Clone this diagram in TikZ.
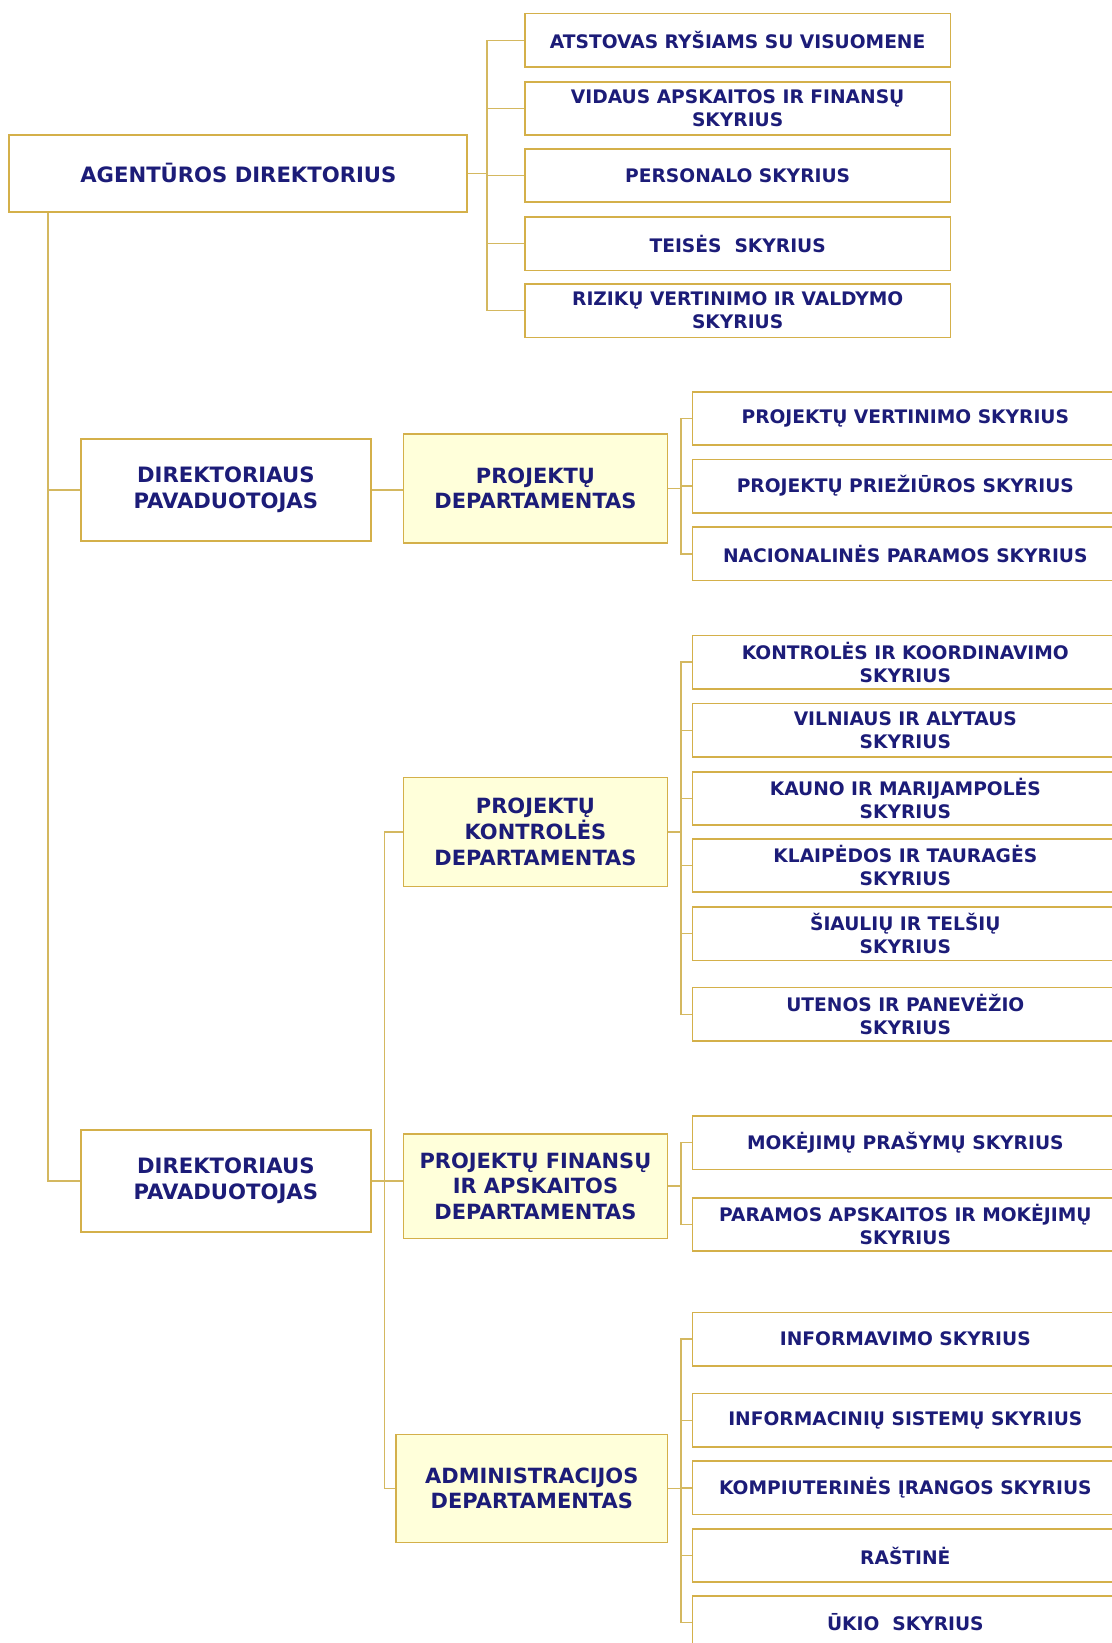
\documentclass[tikz,border=0pt]{standalone}
\usepackage{fontspec}
\setmainfont{DejaVu Sans}
\usepackage{xcolor}
\usepackage{tikz}

\definecolor{gold}{HTML}{D4B04A}
\definecolor{linkgold}{HTML}{D4B860}
\definecolor{paleyellow}{HTML}{FFFFDA}
\definecolor{navy}{HTML}{1C1C78}

\tikzset{
 unit/.style={draw=gold, line width=1.6pt, fill=white, text=navy, inner sep=0pt,
  font=\bfseries\fontsize{17.8}{22}\selectfont, align=center,
  minimum width=406, minimum height=51},
 dept/.style={unit, fill=paleyellow, font=\bfseries\fontsize{20}{24.5}\selectfont,
  minimum width=252, minimum height=104},
 deputy/.style={unit, line width=2pt, font=\bfseries\fontsize{20.2}{24.5}\selectfont,
  minimum width=277, minimum height=97},
 link/.style={draw=linkgold, line width=1.5pt}
}

\begin{document}
\begin{tikzpicture}[x=1pt,y=-1pt]

\useasboundingbox[fill=white] (0,0) rectangle (1061,1568);

\def\bt{465} \def\bl{46} \def\bm{367} \def\br{650}
\coordinate (bt) at (\bt,0); \coordinate (bl) at (\bl,0);
\coordinate (bm) at (\bm,0); \coordinate (br) at (\br,0);

\begin{scope} %director
 \node[deputy, minimum width=437, minimum height=73] (ad) at (227.5,165.5) {AGENTŪROS DIREKTORIUS};
 \foreach \n/\y/\t in {a1/36.5/{ATSTOVAS RYŠIAMS SU VISUOMENE},
   a2/101.5/{VIDAUS APSKAITOS IR FINANSŲ\\SKYRIUS},
   a3/165.5/{PERSONALO SKYRIUS},
   a4/230.5/{TEISĖS\ \ SKYRIUS},
   a5/294.5/{RIZIKŲ VERTINIMO IR VALDYMO\\SKYRIUS}}
  \node[unit, yshift=-2] (\n) at (704,\y) {\t};
 \draw[link] (a1.west) -- (a1.west -| bt) -- (a5.west -| bt) -- (a5.west);
 \foreach \n in {a2,a3,a4} \draw[link] (\n.west -| bt) -- (\n.west);
 \draw[link] (ad.east) -- (ad.east -| bt);
\end{scope}

\begin{scope} %deputies
 \node[deputy] (d1) at (215.5,467.5) {DIREKTORIAUS\\PAVADUOTOJAS};
 \node[deputy] (d2) at (215.5,1127) {DIREKTORIAUS\\PAVADUOTOJAS};
 \draw[link] (ad.south -| bl) -- (bl |- d2.west) -- (d2.west);
 \draw[link] (bl |- d1.west) -- (d1.west);
\end{scope}

\begin{scope} %projektu departamentas
 \node[dept] (pd) at (511,466) {PROJEKTŲ\\DEPARTAMENTAS};
 \draw[link] (d1.east) -- (pd.west |- d1.east);
 \foreach \n/\y/\t in {p1/399.5/{PROJEKTŲ VERTINIMO SKYRIUS},
   p2/464/{PROJEKTŲ PRIEŽIŪROS SKYRIUS},
   p3/528.5/{NACIONALINĖS PARAMOS SKYRIUS}}
  \node[unit] (\n) at (864,\y) {\t};
 \draw[link] (p1.west) -- (p1.west -| br) -- (p3.west -| br) -- (p3.west);
 \draw[link] (p2.west -| br) -- (p2.west);
 \draw[link] (pd.east) -- (pd.east -| br);
\end{scope}

\begin{scope} %kontroles departamentas
 \node[dept] (kd) at (511,794) {PROJEKTŲ\\KONTROLĖS\\DEPARTAMENTAS};
 \foreach \n/\y/\t in {k1/632/{KONTROLĖS IR KOORDINAVIMO\\SKYRIUS},
   k2/697/{VILNIAUS IR ALYTAUS\\SKYRIUS},
   k3/762/{KAUNO IR MARIJAMPOLĖS\\SKYRIUS},
   k4/826/{KLAIPĖDOS IR TAURAGĖS\\SKYRIUS},
   k5/891/{ŠIAULIŲ IR TELŠIŲ\\SKYRIUS},
   k6/968/{UTENOS IR PANEVĖŽIO\\SKYRIUS}}
  \node[unit] (\n) at (864,\y) {\t};
 \draw[link] (k1.west) -- (k1.west -| br) -- (k6.west -| br) -- (k6.west);
 \foreach \n in {k2,k3,k4,k5} \draw[link] (\n.west -| br) -- (\n.west);
 \draw[link] (kd.east) -- (kd.east -| br);
\end{scope}

\begin{scope} %finansu departamentas
 \node[dept, minimum height=100] (fd) at (511,1132) {PROJEKTŲ FINANSŲ\\IR APSKAITOS\\DEPARTAMENTAS};
 \foreach \n/\y/\t in {f1/1090.5/{MOKĖJIMŲ PRAŠYMŲ SKYRIUS},
   f2/1168.5/{PARAMOS APSKAITOS IR MOKĖJIMŲ\\SKYRIUS}}
  \node[unit] (\n) at (864,\y) {\t};
 \draw[link] (f1.west) -- (f1.west -| br) -- (f2.west -| br) -- (f2.west);
 \draw[link] (fd.east) -- (fd.east -| br);
 \draw[link] (d2.east) -- (fd.west |- d2.east);
\end{scope}

\begin{scope} %administracijos departamentas
 \node[dept, minimum width=259, minimum height=103] (md) at (507.5,1420.5) {ADMINISTRACIJOS\\DEPARTAMENTAS};
 \foreach \n/\y/\t in {i1/1278/{INFORMAVIMO SKYRIUS},
   i2/1355.5/{INFORMACINIŲ SISTEMŲ SKYRIUS},
   i3/1420/{KOMPIUTERINĖS ĮRANGOS SKYRIUS},
   i4/1484.5/{RAŠTINĖ},
   i5/1548.5/{ŪKIO\ \ SKYRIUS}}
  \node[unit] (\n) at (864,\y) {\t};
 \draw[link] (i1.west) -- (i1.west -| br) -- (i5.west -| br) -- (i5.west);
 \foreach \n in {i2,i3,i4} \draw[link] (\n.west -| br) -- (\n.west);
 \draw[link] (md.east) -- (md.east -| br);
\end{scope}

%middle line
\draw[link] (kd.west) -- (kd.west -| bm) -- (md.west -| bm) -- (md.west);

\end{tikzpicture}
\end{document}
